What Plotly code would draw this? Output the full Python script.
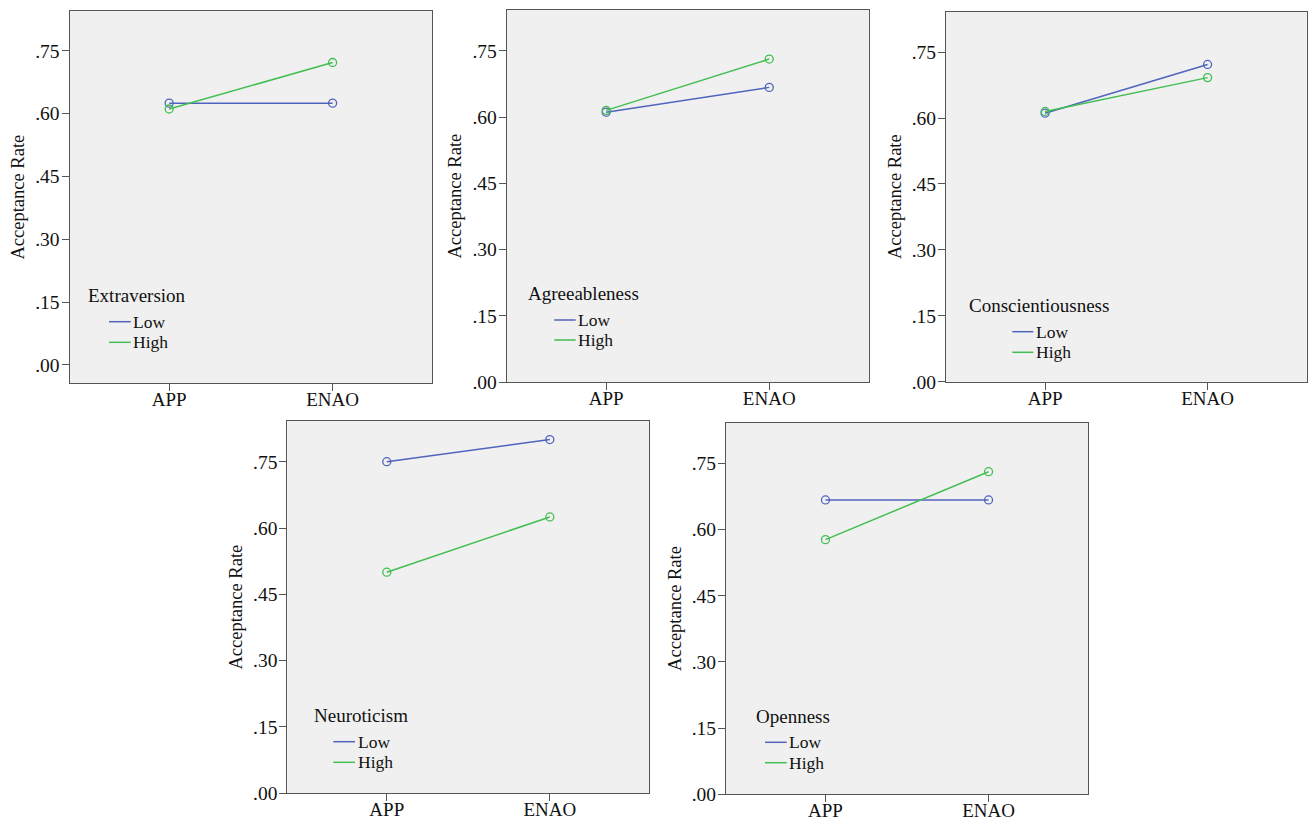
import plotly.graph_objects as go

# ---------------- data ----------------
traits = ["Extraversion", "Agreeableness", "Conscientiousness", "Neuroticism", "Openness"]
conditions = ["APP", "ENAO"]
levels = ["Low", "High"]
low_rates = [
    [0.625, 0.625],
    [0.611, 0.667],
    [0.611, 0.722],
    [0.750, 0.800],
    [0.667, 0.667],
]
high_rates = [
    [0.611, 0.722],
    [0.615, 0.731],
    [0.615, 0.692],
    [0.500, 0.625],
    [0.577, 0.731],
]
y_tickvals = [0.0, 0.15, 0.30, 0.45, 0.60, 0.75]
y_ticktext = [".00", ".15", ".30", ".45", ".60", ".75"]
y_title = "Acceptance Rate"

# ---------------- style / layout ----------------
W, H = 1309, 821
BLUE = "#4F64BC"
GREEN = "#42BE52"
FRAME = "#555555"
FONT = "Liberation Serif"
TXT = "#111111"

# panel frames in px: left, top, right, bottom
frames = [
    (69.5, 11, 432.3, 383.3),
    (506.7, 10, 868.7, 382.3),
    (946, 11.7, 1306.7, 381.7),
    (287.3, 421, 649.3, 793.3),
    (726, 422.7, 1088, 794.3),
]
y_ranges = [(-0.044, 0.845), (0, 0.842), (0, 0.842), (0, 0.842), (0, 0.842)]
# legend placement in px: title_left, title_cy, line_x0, line_x1, low_cy, high_cy
legend_pos = [
    (87.3, 295, 109, 130.7, 321.7, 342.3),
    (526.7, 293.3, 554.3, 575.7, 320, 340),
    (967.7, 305, 1012.3, 1033.3, 331.7, 352.3),
    (312.7, 715, 333.3, 355, 741.7, 762.3),
    (755.3, 716, 765, 786.7, 742.3, 762.7),
]

fig = go.Figure()
annotations = []
shapes = []
layout = {}

for i, trait in enumerate(traits):
    sx = "" if i == 0 else str(i + 1)
    xref, yref = "x" + sx, "y" + sx
    for level, vals, col in ((levels[0], low_rates[i], BLUE), (levels[1], high_rates[i], GREEN)):
        fig.add_trace(go.Scatter(
            x=conditions, y=vals, mode="lines+markers", name=f"{trait} {level}",
            line=dict(color=col, width=1.5),
            marker=dict(symbol="circle-open", size=8, color=col, line=dict(width=1.3, color=col)),
            xaxis=xref, yaxis=yref, showlegend=False, cliponaxis=False,
        ))
    l, t, r, b = frames[i]
    layout["xaxis" + sx] = dict(
        domain=[l / W, r / W], anchor=yref, type="category", automargin=False,
        categoryorder="array", categoryarray=conditions, range=[-0.61, 1.61],
        showline=True, mirror=True, linecolor=FRAME, linewidth=1,
        ticks="outside", ticklen=7, tickcolor=FRAME, showgrid=False, zeroline=False,
        ticklabelstandoff=-8,
        tickfont=dict(family=FONT, size=19, color=TXT), fixedrange=True,
    )
    layout["yaxis" + sx] = dict(
        domain=[1 - b / H, 1 - t / H], anchor=xref, range=list(y_ranges[i]), automargin=False,
        tickvals=y_tickvals, ticktext=y_ticktext,
        showline=True, mirror=True, linecolor=FRAME, linewidth=1,
        ticks="outside", ticklen=7, tickcolor=FRAME, showgrid=False, zeroline=False,
        ticklabelstandoff=-2,
        tickfont=dict(family=FONT, size=19.5, color=TXT), fixedrange=True,
        title=dict(text=y_title, font=dict(family=FONT, size=18.5, color=TXT), standoff=5),
    )
    # legend (SPSS style, drawn inside the panel)
    tl, tcy, lx0, lx1, lowy, highy = legend_pos[i]
    annotations.append(dict(
        text=trait, x=tl / W, y=1 - tcy / H, xref="paper", yref="paper",
        xanchor="left", yanchor="middle", showarrow=False,
        font=dict(family=FONT, size=19, color=TXT), borderpad=0,
    ))
    for level, cy, col in ((levels[0], lowy, BLUE), (levels[1], highy, GREEN)):
        shapes.append(dict(type="line", xref="paper", yref="paper",
                           x0=lx0 / W, x1=lx1 / W, y0=1 - cy / H, y1=1 - cy / H,
                           line=dict(color=col, width=1.5)))
        annotations.append(dict(
            text=level, x=(lx1 + 1.5) / W, y=1 - cy / H, xref="paper", yref="paper",
            xanchor="left", yanchor="middle", showarrow=False,
            font=dict(family=FONT, size=17.5, color=TXT), borderpad=0,
        ))

fig.update_layout(
    width=W, height=H, margin=dict(l=0, r=0, t=0, b=0, autoexpand=False),
    paper_bgcolor="white", plot_bgcolor="#F0F0F0",
    annotations=annotations, shapes=shapes, showlegend=False,
    **layout,
)

fig.write_html("out.html")
